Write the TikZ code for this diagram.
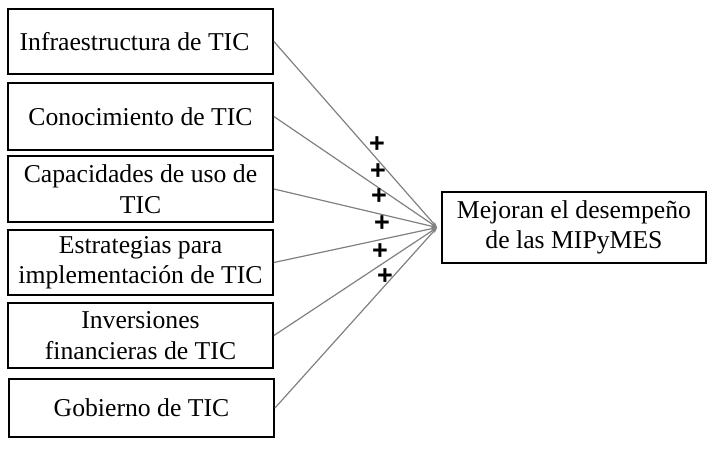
\documentclass[tikz,border=0pt]{standalone}
\usepackage{fontspec}
\setmainfont{Liberation Serif}
\newfontfamily\plusfont{Liberation Sans}
\usetikzlibrary{arrows.meta}
\begin{document}
\begin{tikzpicture}[x=1pt,y=-1pt,
  src/.style={draw=black,line width=1.8pt,minimum width=265pt,inner sep=0pt,align=center,font=\fontsize{25.7}{30.5}\selectfont},
  dst/.style={draw=black,line width=1.8pt,minimum width=264pt,minimum height=71pt,inner sep=0pt,align=center,font=\fontsize{25.7}{30.5}\selectfont},
  conn/.style={draw=black!50,line width=1.2pt,-{Stealth[length=6pt,width=4pt]}},
  plus/.style={font=\plusfont\fontsize{27}{27}\selectfont\bfseries,inner sep=0pt}]
\useasboundingbox (0,0) rectangle (714,451);
\node[src,minimum height=65pt] (b1) at (140.5,41.5) {Infraestructura de TIC\kern 12pt};
\node[src,minimum height=67pt] (b2) at (140.5,116.5) {Conocimiento de TIC};
\node[src,minimum height=66pt] (b3) at (140.5,189) {Capacidades de uso de\\TIC};
\node[src,minimum height=65pt] (b4) at (140.5,262.5) {Estrategias para\\implementación de TIC};
\node[src,minimum height=65pt] (b5) at (140.5,335.5) {Inversiones\\financieras de TIC};
\node[src,minimum height=58pt] (b6) at (141.5,408) {Gobierno de TIC};
\node[dst] (m) at (574,227.5) {Mejoran el desempeño\\de las MIPyMES};
\coordinate (t) at ([xshift=-4pt]m.west);
\foreach \b in {b1,b2,b3,b4,b5,b6} \draw[conn] (\b.east) -- (t);
\node[plus] (p1) at (377,145) {+};
\node[plus] (p2) at (378,172) {+};
\node[plus] (p3) at (379,197) {+};
\node[plus] (p4) at (382,224) {+};
\node[plus] (p5) at (380,252) {+};
\node[plus] (p6) at (385,277) {+};
\end{tikzpicture}
\end{document}
